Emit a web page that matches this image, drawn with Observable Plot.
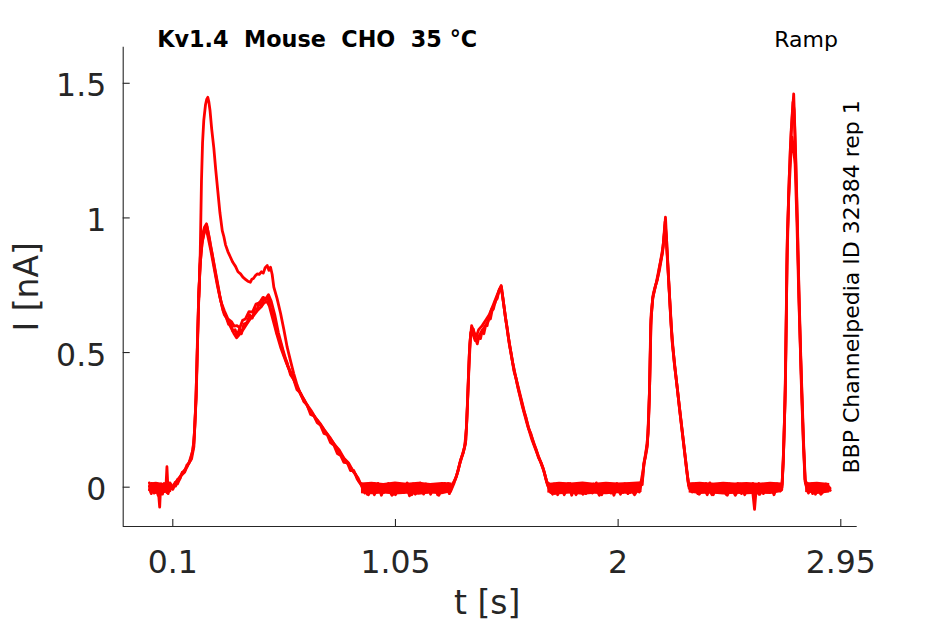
<!DOCTYPE html>
<html><head><meta charset="utf-8">
<script src="https://cdn.jsdelivr.net/npm/d3@7"></script>
<script src="https://cdn.jsdelivr.net/npm/@observablehq/plot@0.6"></script>
<style>html,body{margin:0;padding:0;background:#fff} svg{display:block}</style>
</head><body><div id="chart"></div>
<script>
// ---- text ----
const titleText = "Kv1.4  Mouse  CHO  35 \u00B0C";
const protocolText = "Ramp";
const sideText = "BBP Channelpedia ID 32384 rep 1";
const xLabel = "t [s]";
const yLabel = "I [nA]";
// ---- ticks ----
const xTicks = [0.1, 1.05, 2, 2.95];
const yTicks = [0, 0.5, 1, 1.5];
// ---- trace B (low first peak) ----
const tB = [0.000,0.008,0.016,0.024,0.032,0.040,0.044,0.048,0.056,0.064,0.070,0.075,0.080,0.088,0.096,
  0.104,0.112,0.120,0.130,0.140,0.150,0.160,0.168,0.176,0.183,0.190,0.195,0.200,0.205,0.211,0.217,0.222,0.227,0.235,0.244,
  0.252,0.260,0.268,0.278,0.289,0.300,0.311,0.320,0.329,0.338,0.346,0.356,0.366,0.375,0.384,0.393,0.403,0.417,0.428,0.439,
  0.450,0.460,0.469,0.478,0.487,0.495,0.506,0.517,0.531,0.545,0.560,0.574,0.588,0.602,0.616,0.630,0.645,0.659,0.673,0.688,
  0.702,0.716,0.730,0.745,0.759,0.773,0.788,0.802,0.816,0.830,0.845,0.858,0.872,0.887,0.901,
  0.915,0.930,0.945,0.960,0.975,0.990,1.005,1.020,1.035,1.050,1.065,1.080,1.095,1.110,1.125,1.140,1.155,1.170,1.185,1.200,
  1.215,1.230,1.245,1.260,1.275,1.290,
  1.306,1.317,1.327,1.338,1.349,1.354,1.359,1.364,1.370,1.376,1.382,1.390,1.399,1.406,1.413,1.420,1.427,1.434,1.441,1.448,
  1.455,1.462,1.468,1.476,1.484,1.492,1.501,1.509,1.519,1.527,1.536,1.545,1.555,1.565,1.575,1.586,1.597,1.607,1.617,1.628,
  1.640,1.650,1.660,1.672,1.683,1.697,
  1.712,1.727,1.742,1.757,1.772,1.787,1.802,1.817,1.832,1.847,1.862,1.877,1.892,1.907,1.922,1.937,1.952,1.967,1.982,1.997,
  2.012,2.027,2.042,2.057,2.072,2.087,2.103,
  2.109,2.116,2.124,2.130,2.135,2.141,2.150,2.158,2.167,2.177,2.188,2.196,2.202,2.209,2.216,2.223,2.230,2.241,2.252,2.262,
  2.273,2.284,2.295,2.301,
  2.316,2.331,2.346,2.361,2.376,2.391,2.406,2.421,2.436,2.451,2.466,2.481,2.496,2.511,2.526,2.541,2.556,2.571,2.582,2.590,
  2.605,2.620,2.635,2.650,2.665,2.680,2.692,2.700,
  2.704,2.709,2.714,2.718,2.721,2.729,2.735,2.743,2.749,2.757,2.764,2.771,2.778,2.785,2.792,2.799,
  2.812,2.827,2.842,2.857,2.872,2.887,2.903];
const iB = [0.004,-0.024,0.010,-0.020,0.012,-0.030,-0.074,0.002,-0.026,0.006,-0.012,0.076,-0.018,0.008,-0.006,
  0.010,0.004,0.028,0.030,0.055,0.058,0.082,0.088,0.110,0.130,0.165,0.250,0.334,0.520,0.706,0.850,0.910,0.940,0.965,0.978,
  0.940,0.900,0.867,0.820,0.768,0.715,0.668,0.640,0.628,0.605,0.612,0.580,0.585,0.562,0.588,0.570,0.605,0.612,0.640,0.628,
  0.660,0.662,0.685,0.672,0.700,0.695,0.705,0.668,0.625,0.570,0.535,0.490,0.462,0.418,0.400,0.362,0.350,0.318,0.305,0.270,
  0.265,0.240,0.230,0.200,0.195,0.165,0.155,0.125,0.118,0.092,0.090,0.062,0.062,0.030,0.013,
  0.010,-0.026,0.004,-0.018,0.014,-0.030,0.002,-0.014,0.012,-0.028,0.006,-0.020,0.010,-0.032,0.012,-0.012,0.016,-0.026,0.002,-0.020,
  0.010,-0.028,0.008,-0.014,0.014,0.004,
  0.030,0.060,0.099,0.125,0.162,0.240,0.347,0.450,0.557,0.585,0.588,0.556,0.532,0.560,0.552,0.582,0.570,0.598,0.600,0.630,
  0.625,0.655,0.662,0.692,0.700,0.732,0.749,0.700,0.631,0.590,0.530,0.490,0.433,0.402,0.360,0.325,0.285,0.258,0.220,0.198,
  0.161,0.140,0.110,0.090,0.062,0.013,
  -0.020,0.012,-0.028,0.006,-0.016,0.014,-0.030,0.004,-0.018,0.012,-0.024,0.008,-0.012,0.016,-0.026,0.004,-0.020,0.010,-0.030,0.008,
  -0.016,0.012,-0.024,0.006,-0.014,0.012,0.010,
  0.087,0.110,0.149,0.250,0.396,0.644,0.718,0.745,0.768,0.820,0.867,0.930,1.003,0.880,0.768,0.650,0.545,0.450,0.371,0.290,
  0.211,0.130,0.050,0.006,
  -0.018,0.010,-0.026,0.012,-0.014,0.016,-0.028,0.004,-0.020,0.010,-0.030,0.008,-0.016,0.014,-0.024,0.006,-0.020,0.010,-0.082,0.004,
  -0.026,0.010,-0.018,0.014,-0.028,0.008,-0.014,0.012,
  0.087,0.220,0.396,0.650,0.891,1.120,1.263,1.380,1.461,1.250,1.015,0.750,0.520,0.330,0.149,0.013,
  -0.022,0.012,-0.026,0.008,-0.018,0.012,-0.010];
// ---- trace C (second low sweep) ----
const tC = [0.000,0.010,0.020,0.030,0.040,0.050,0.060,0.070,0.080,0.090,0.100,0.110,0.120,0.135,0.150,0.165,0.180,0.190,0.196,0.203,
  0.209,0.216,0.224,0.233,0.242,0.250,0.262,0.275,0.290,0.305,0.320,0.335,0.350,0.362,0.374,0.386,0.398,0.410,0.425,0.440,
  0.455,0.470,0.485,0.497,0.508,0.520,0.535,0.550,0.570,0.590,0.610,0.630,0.650,0.670,0.690,0.710,0.730,0.750,0.770,0.790,
  0.810,0.830,0.850,0.870,0.890,0.905,
  0.920,0.940,0.960,0.980,1.000,1.020,1.040,1.060,1.080,1.100,1.120,1.140,1.160,1.180,1.200,1.220,1.240,1.260,1.280,1.295,
  1.310,1.325,1.340,1.350,1.357,1.364,1.371,1.380,1.390,1.400,1.415,1.430,1.445,1.460,1.475,1.490,1.498,1.505,1.515,1.530,
  1.545,1.560,1.580,1.600,1.620,1.640,1.660,1.680,1.695,
  1.710,1.730,1.750,1.770,1.790,1.810,1.830,1.850,1.870,1.890,1.910,1.930,1.950,1.970,1.990,2.010,2.030,2.050,2.070,2.090,2.104,
  2.112,2.125,2.133,2.139,2.147,2.160,2.175,2.190,2.198,2.201,2.210,2.220,2.232,2.250,2.270,2.290,2.300,
  2.320,2.340,2.360,2.380,2.400,2.420,2.440,2.460,2.480,2.500,2.520,2.540,2.560,2.580,2.600,2.620,2.640,2.660,2.680,2.698,
  2.705,2.713,2.720,2.728,2.736,2.742,2.748,2.755,2.763,2.771,2.780,2.790,2.798,
  2.810,2.830,2.850,2.870,2.890,2.905];
const iC = [-0.010,0.014,-0.022,0.008,-0.026,0.012,-0.014,0.010,-0.024,0.012,-0.004,0.018,0.012,0.042,0.055,0.085,0.105,0.150,0.270,0.450,
  0.660,0.820,0.900,0.945,0.962,0.930,0.880,0.820,0.750,0.690,0.655,0.625,0.615,0.598,0.600,0.592,0.620,0.625,0.652,0.650,
  0.680,0.685,0.705,0.700,0.715,0.690,0.640,0.575,0.510,0.450,0.415,0.372,0.340,0.310,0.285,0.255,0.235,0.208,0.185,0.158,
  0.138,0.108,0.090,0.058,0.035,0.005,
  -0.022,0.012,-0.028,0.008,-0.020,0.014,-0.026,0.010,-0.016,0.016,-0.028,0.006,-0.020,0.012,-0.026,0.010,-0.018,0.014,-0.024,0.012,
  0.040,0.090,0.130,0.175,0.300,0.480,0.575,0.570,0.545,0.552,0.575,0.595,0.615,0.660,0.685,0.725,0.740,0.720,0.660,0.565,
  0.485,0.420,0.350,0.280,0.215,0.165,0.115,0.070,0.020,
  0.010,-0.024,0.012,-0.028,0.008,-0.018,0.014,-0.026,0.010,-0.022,0.006,-0.028,0.014,-0.016,0.010,-0.026,0.012,-0.020,0.008,-0.018,0.030,
  0.100,0.160,0.330,0.600,0.700,0.750,0.800,0.875,0.950,0.975,0.850,0.700,0.530,0.385,0.230,0.080,0.010,
  0.012,-0.024,0.008,-0.028,0.012,-0.018,0.014,-0.026,0.006,-0.020,0.012,-0.028,0.010,-0.016,0.014,-0.024,0.008,-0.020,0.012,-0.010,
  0.100,0.360,0.820,1.080,1.220,1.300,1.260,1.200,0.980,0.700,0.450,0.180,0.020,
  0.012,-0.024,0.010,-0.022,0.008,-0.012];
// ---- trace D (third low sweep) ----
const tD = [0.000,0.0125,0.025,0.0375,0.050,0.0625,0.075,0.0875,0.100,0.115,
  0.130,0.145,0.160,0.175,0.186,0.193,0.199,0.205,0.211,0.218,
  0.226,0.236,0.246,0.256,0.270,0.285,0.300,0.315,0.330,0.345,
  0.360,0.372,0.385,0.400,0.415,0.430,0.445,0.460,0.475,0.490,
  0.502,0.512,0.525,0.540,0.560,0.580,0.600,0.620,0.640,0.660,
  0.680,0.700,0.720,0.740,0.760,0.780,0.800,0.820,0.840,0.860,0.880,0.895,
  0.910,0.935,0.960,0.985,1.010,1.035,1.060,1.085,1.110,1.135,1.160,1.185,1.210,1.235,1.260,1.285,1.300,
  1.315,1.330,1.345,1.353,1.360,1.367,1.375,1.385,1.395,1.405,1.420,1.435,1.450,1.465,1.480,1.494,1.502,1.510,1.520,1.535,
  1.550,1.570,1.590,1.610,1.630,1.650,1.670,1.685,1.700,
  1.720,1.745,1.770,1.795,1.820,1.845,1.870,1.895,1.920,1.945,1.970,1.995,2.020,2.045,2.070,2.095,
  2.106,2.118,2.128,2.134,2.140,2.148,2.163,2.180,2.192,2.200,2.206,2.214,2.226,2.240,2.260,2.280,2.293,2.303,
  2.325,2.350,2.375,2.400,2.425,2.450,2.475,2.500,2.525,2.550,2.575,2.600,2.625,2.650,2.675,2.699,
  2.706,2.712,2.717,2.722,2.730,2.738,2.746,2.751,2.758,2.765,2.773,2.781,2.790,2.797,
  2.815,2.840,2.865,2.890,2.904];
const iD = [0.016,-0.018,0.006,-0.030,0.000,0.014,-0.020,0.016,-0.008,0.022,
  0.038,0.058,0.075,0.100,0.140,0.210,0.330,0.540,0.720,0.840,
  0.915,0.950,0.968,0.925,0.855,0.780,0.710,0.655,0.628,0.598,
  0.572,0.555,0.568,0.585,0.605,0.625,0.638,0.655,0.668,0.685,
  0.690,0.672,0.630,0.580,0.520,0.472,0.430,0.392,0.355,0.325,
  0.292,0.268,0.245,0.220,0.195,0.170,0.145,0.118,0.095,0.072,0.048,0.020,
  0.004,-0.028,0.014,-0.016,0.010,-0.030,0.012,-0.020,0.008,-0.026,0.014,-0.018,0.006,-0.030,0.012,-0.016,0.015,
  0.055,0.105,0.150,0.220,0.380,0.530,0.600,0.575,0.560,0.585,0.600,0.620,0.640,0.672,0.705,0.735,0.745,0.690,0.625,0.540,
  0.462,0.380,0.305,0.240,0.182,0.135,0.092,0.055,0.006,
  -0.026,0.012,-0.018,0.014,-0.028,0.008,-0.020,0.012,-0.030,0.010,-0.022,0.014,-0.020,0.008,-0.028,0.006,
  0.060,0.125,0.200,0.360,0.620,0.705,0.760,0.835,0.895,0.985,0.930,0.790,0.600,0.460,0.310,0.160,0.060,-0.004,
  0.010,-0.022,0.014,-0.028,0.008,-0.018,0.012,-0.030,0.010,-0.020,0.014,-0.026,0.006,-0.018,0.012,0.000,
  0.140,0.320,0.600,0.930,1.150,1.320,1.430,1.400,1.200,0.960,0.660,0.400,0.170,0.030,
  -0.018,0.012,-0.026,0.010,-0.004];
// ---- trace A (high first peak sweep, where it departs from the others) ----
const tA = [0.211,0.217,0.2224,0.227,0.2322,0.2395,0.2445,0.2493,0.2540,0.2587,0.266,0.275,0.283,0.292,0.301,0.311,0.318,0.325,0.335,0.346,
  0.356,0.3675,0.378,0.389,0.399,0.410,0.420,0.431,0.437,0.444,0.452,0.460,0.469,0.478,0.486,0.494,0.503,0.510,0.517,0.524,
  0.531,0.545,0.560,0.574,0.588,0.602,0.616,0.630,0.645,0.659];
const iA = [0.706,0.867,1.139,1.280,1.362,1.420,1.440,1.448,1.430,1.400,1.330,1.260,1.180,1.100,1.020,0.953,0.930,0.900,0.875,0.854,
  0.835,0.820,0.800,0.792,0.780,0.772,0.765,0.761,0.772,0.775,0.785,0.792,0.790,0.800,0.795,0.815,0.823,0.805,0.817,0.790,
  0.743,0.700,0.645,0.585,0.520,0.470,0.422,0.380,0.345,0.322];
// ---- baseline noise envelope (solid band where the sweeps overlap at rest) ----
const tN   = [0.002,0.030,0.060,0.095,
  0.905,0.950,1.000,1.050,1.100,1.150,1.200,1.250,1.292,
  1.700,1.750,1.800,1.850,1.900,1.950,2.000,2.050,2.102,
  2.303,2.350,2.400,2.450,2.500,2.550,2.600,2.650,2.699,
  2.800,2.850,2.903];
const segN = [1,1,1,1, 2,2,2,2,2,2,2,2,2, 3,3,3,3,3,3,3,3,3, 4,4,4,4,4,4,4,4,4, 5,5,5];
const loN  = [-0.022,-0.026,-0.024,-0.020,
  -0.024,-0.028,-0.025,-0.029,-0.026,-0.030,-0.025,-0.028,-0.020,
  -0.022,-0.028,-0.025,-0.030,-0.026,-0.028,-0.024,-0.027,-0.020,
  -0.022,-0.027,-0.025,-0.029,-0.026,-0.028,-0.026,-0.027,-0.020,
  -0.020,-0.027,-0.022];
const hiN  = [0.016,0.018,0.014,0.016,
  0.016,0.018,0.014,0.019,0.015,0.018,0.014,0.017,0.016,
  0.014,0.018,0.016,0.019,0.015,0.018,0.016,0.017,0.020,
  0.016,0.018,0.015,0.018,0.016,0.017,0.015,0.018,0.016,
  0.016,0.018,0.014];

// ---- layout ----
const W = 945, H = 624;
const mL = 122.7, mR = 88.3, mT = 46.7, mB = 98;
const frameW = W - mL - mR, frameH = H - mT - mB;
const xDomain = [-0.1116, 3.02];
const yDomain = [-0.146, 1.634];
const red = "#ff0000", ink = "#262626";
const lw = 2.8;

const rows = (ts, is) => ts.slice(0, Math.min(ts.length, is.length)).map((t, k) => ({t, i: is[k]}));
const noiseRows = tN.map((t, k) => ({t, seg: segN[k], lo: loN[k], hi: hiN[k]}));
const fmt = d => String(d);
const lineOpts = {x: "t", y: "i", stroke: red, strokeWidth: lw, strokeLinejoin: "round", strokeLinecap: "round"};

const chart = Plot.plot({
  width: W, height: H,
  marginLeft: mL, marginRight: mR, marginTop: mT, marginBottom: mB,
  style: {fontFamily: "'DejaVu Sans', sans-serif", fontSize: "31.5px", background: "#fff", color: ink, overflow: "visible"},
  x: {domain: xDomain, label: null},
  y: {domain: yDomain, label: null},
  marks: [
    Plot.ruleX([xDomain[0]], {stroke: ink, strokeWidth: 1.1}),
    Plot.ruleY([yDomain[0]], {stroke: ink, strokeWidth: 1.1}),
    Plot.tickX(xTicks, {x: d => d, insetTop: frameH - 7, stroke: ink, strokeWidth: 1.1}),
    Plot.tickY(yTicks, {y: d => d, insetRight: frameW - 7, stroke: ink, strokeWidth: 1.1}),
    Plot.axisX({ticks: xTicks, tickSize: 0, tickPadding: 24, tickFormat: fmt, label: null, fontSize: 31.5}),
    Plot.axisY({ticks: yTicks, tickSize: 0, tickPadding: 17, tickFormat: fmt, label: null, fontSize: 31.5, dy: 3}),
    Plot.areaY(noiseRows, {x: "t", y1: "lo", y2: "hi", z: "seg", fill: red}),
    Plot.line(rows(tD, iD), lineOpts),
    Plot.line(rows(tC, iC), lineOpts),
    Plot.line(rows(tB, iB), lineOpts),
    Plot.line(rows(tA, iA), lineOpts),
    Plot.text([titleText], {text: d => d, frameAnchor: "top-left", textAnchor: "start", lineAnchor: "bottom",
      dx: 34, dy: 0, fontSize: 22.3, fontWeight: "bold", fill: "#000"}),
    Plot.text([protocolText], {text: d => d, frameAnchor: "top-left", textAnchor: "start", lineAnchor: "bottom",
      dx: 651, dy: 0, fontSize: 22, fill: "#000"}),
    Plot.text([sideText], {text: d => d, frameAnchor: "right", textAnchor: "middle", lineAnchor: "bottom",
      rotate: -90, dx: 1.3, fontSize: 22, fill: "#000"}),
    Plot.text([yLabel], {text: d => d, frameAnchor: "left", textAnchor: "middle", lineAnchor: "bottom",
      rotate: -90, dx: -85.4, fontSize: 33, fill: ink}),
    Plot.text([xLabel], {text: d => d, frameAnchor: "bottom", textAnchor: "middle", lineAnchor: "bottom",
      dx: -3, dy: 87, fontSize: 33, fill: ink})
  ]
});
document.getElementById("chart").appendChild(chart);
</script>
</body></html>
